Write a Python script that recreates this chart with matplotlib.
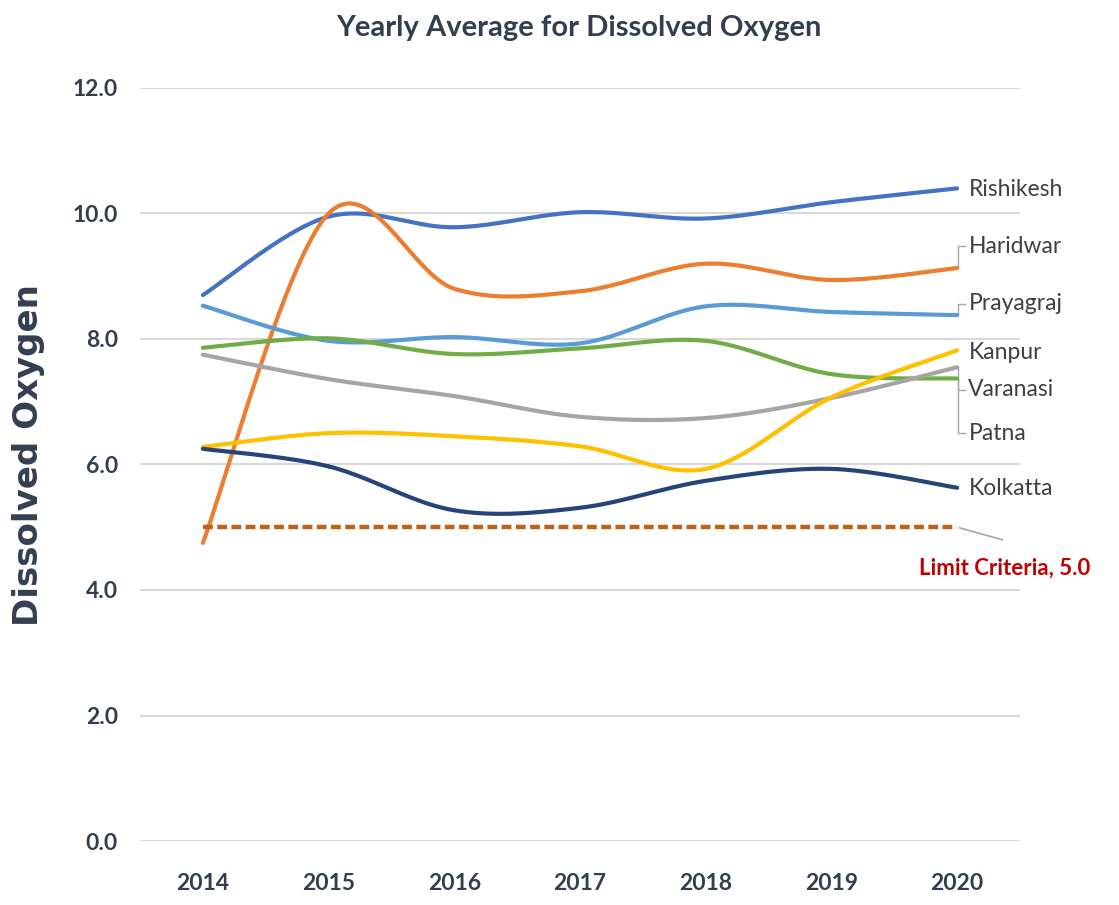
import numpy as np
import matplotlib.pyplot as plt

years = ["2014", "2015", "2016", "2017", "2018", "2019", "2020"]

rishikesh = [8.70, 9.95, 9.78, 10.02, 9.92, 10.18, 10.40]
haridwar = [4.75, 10.00, 8.80, 8.76, 9.20, 8.94, 9.13]
prayagraj = [8.53, 7.97, 8.03, 7.93, 8.52, 8.43, 8.38]
varanasi = [7.86, 8.01, 7.76, 7.85, 7.97, 7.44, 7.37]
patna = [7.75, 7.36, 7.09, 6.76, 6.74, 7.06, 7.55]
kanpur = [6.28, 6.50, 6.45, 6.29, 5.93, 7.07, 7.82]
kolkatta = [6.25, 5.97, 5.27, 5.31, 5.74, 5.93, 5.63]
limit = [5.0] * 7

series = [
    ("Rishikesh", rishikesh, "#4472C4"),
    ("Haridwar", haridwar, "#ED7D31"),
    ("Prayagraj", prayagraj, "#5B9BD5"),
    ("Varanasi", varanasi, "#70AD47"),
    ("Patna", patna, "#A5A5A5"),
    ("Kanpur", kanpur, "#FFC000"),
    ("Kolkatta", kolkatta, "#264478"),
]

# label y positions at the right end (data units)
label_y = {"Rishikesh": 10.39, "Haridwar": 9.48, "Prayagraj": 8.56, "Kanpur": 7.79,
           "Varanasi": 7.19, "Patna": 6.50, "Kolkatta": 5.61}

narrow = ["Lato", "DejaVu Sans"]
tick_col = "#333F50"


def smooth(xs, ys, n=40):
    # catmull-rom curve through the points, like the smoothed lines in Excel
    p = np.column_stack([xs, ys]).astype(float)
    p = np.vstack([p[0], p, p[-1]])
    out = []
    t = np.linspace(0, 1, n)[:, None]
    for i in range(1, len(p) - 2):
        p0, p1, p2, p3 = p[i - 1], p[i], p[i + 1], p[i + 2]
        seg = 0.5 * ((2 * p1) + (-p0 + p2) * t + (2 * p0 - 5 * p1 + 4 * p2 - p3) * t ** 2
                     + (-p0 + 3 * p1 - 3 * p2 + p3) * t ** 3)
        out.append(seg)
    c = np.vstack(out)
    return c[:, 0], c[:, 1]


fig = plt.figure(figsize=(11.19, 9.05), dpi=100)
ax = fig.add_axes([0.1251, 0.0707, 0.7864, 0.8321])

x = np.arange(len(years))
for name, vals, col in series:
    sx, sy = smooth(x, vals)
    ax.plot(sx, sy, color=col, lw=3, solid_capstyle="round", zorder=3)

ax.plot(x, limit, color="#C0601A", lw=3.2, ls=(0, (2.2, 1.0)), dash_capstyle="butt", zorder=3)

ax.set_xlim(-0.5, 6.5)
ax.set_ylim(0, 12)
ax.set_yticks(np.arange(0, 13, 2))
ax.set_yticklabels([f"{v:.1f}" for v in np.arange(0, 13, 2)])
ax.set_xticks(x)
ax.set_xticklabels(years)
ax.grid(axis="y", color="#D9D9D9", lw=1.5)
ax.set_axisbelow(True)
for s in ax.spines.values():
    s.set_visible(False)
ax.tick_params(length=0, labelcolor=tick_col, labelsize=16.5)
ax.tick_params(axis="y", pad=16)
ax.tick_params(axis="x", pad=23)
for lab in ax.get_xticklabels() + ax.get_yticklabels():
    lab.set_family(narrow)
    lab.set_fontweight("bold")

ax.set_ylabel("Dissolved Oxygen", fontsize=24.5, fontweight="bold", color="#333F50",
              family="DejaVu Sans")
ax.yaxis.set_label_coords(-0.108, 0.513)
fig.text(0.517, 0.969, "Yearly Average for Dissolved Oxygen", ha="center", va="center",
         fontsize=21, fontweight="bold", color="#333F50", family=narrow)

lx = 6.09
for name, vals, col in series:
    ly = label_y[name]
    ax.text(lx, ly, name, ha="left", va="center", fontsize=16.5, color="#404040",
            family=narrow, clip_on=False)
    if abs(ly - vals[-1]) > 0.08:
        ax.plot([6.01, 6.01, 6.06], [vals[-1], ly, ly], color="#A6A6A6", lw=1, zorder=2,
                clip_on=False)

ax.plot([6.02, 6.36], [4.99, 4.8], color="#A6A6A6", lw=1.2, clip_on=False)
ax.text(6.38, 4.35, "Limit Criteria, 5.0", ha="center", va="center", fontsize=16,
        fontweight="bold", color="#C00000", family=narrow, clip_on=False)

fig.savefig("out.png", dpi=100)
